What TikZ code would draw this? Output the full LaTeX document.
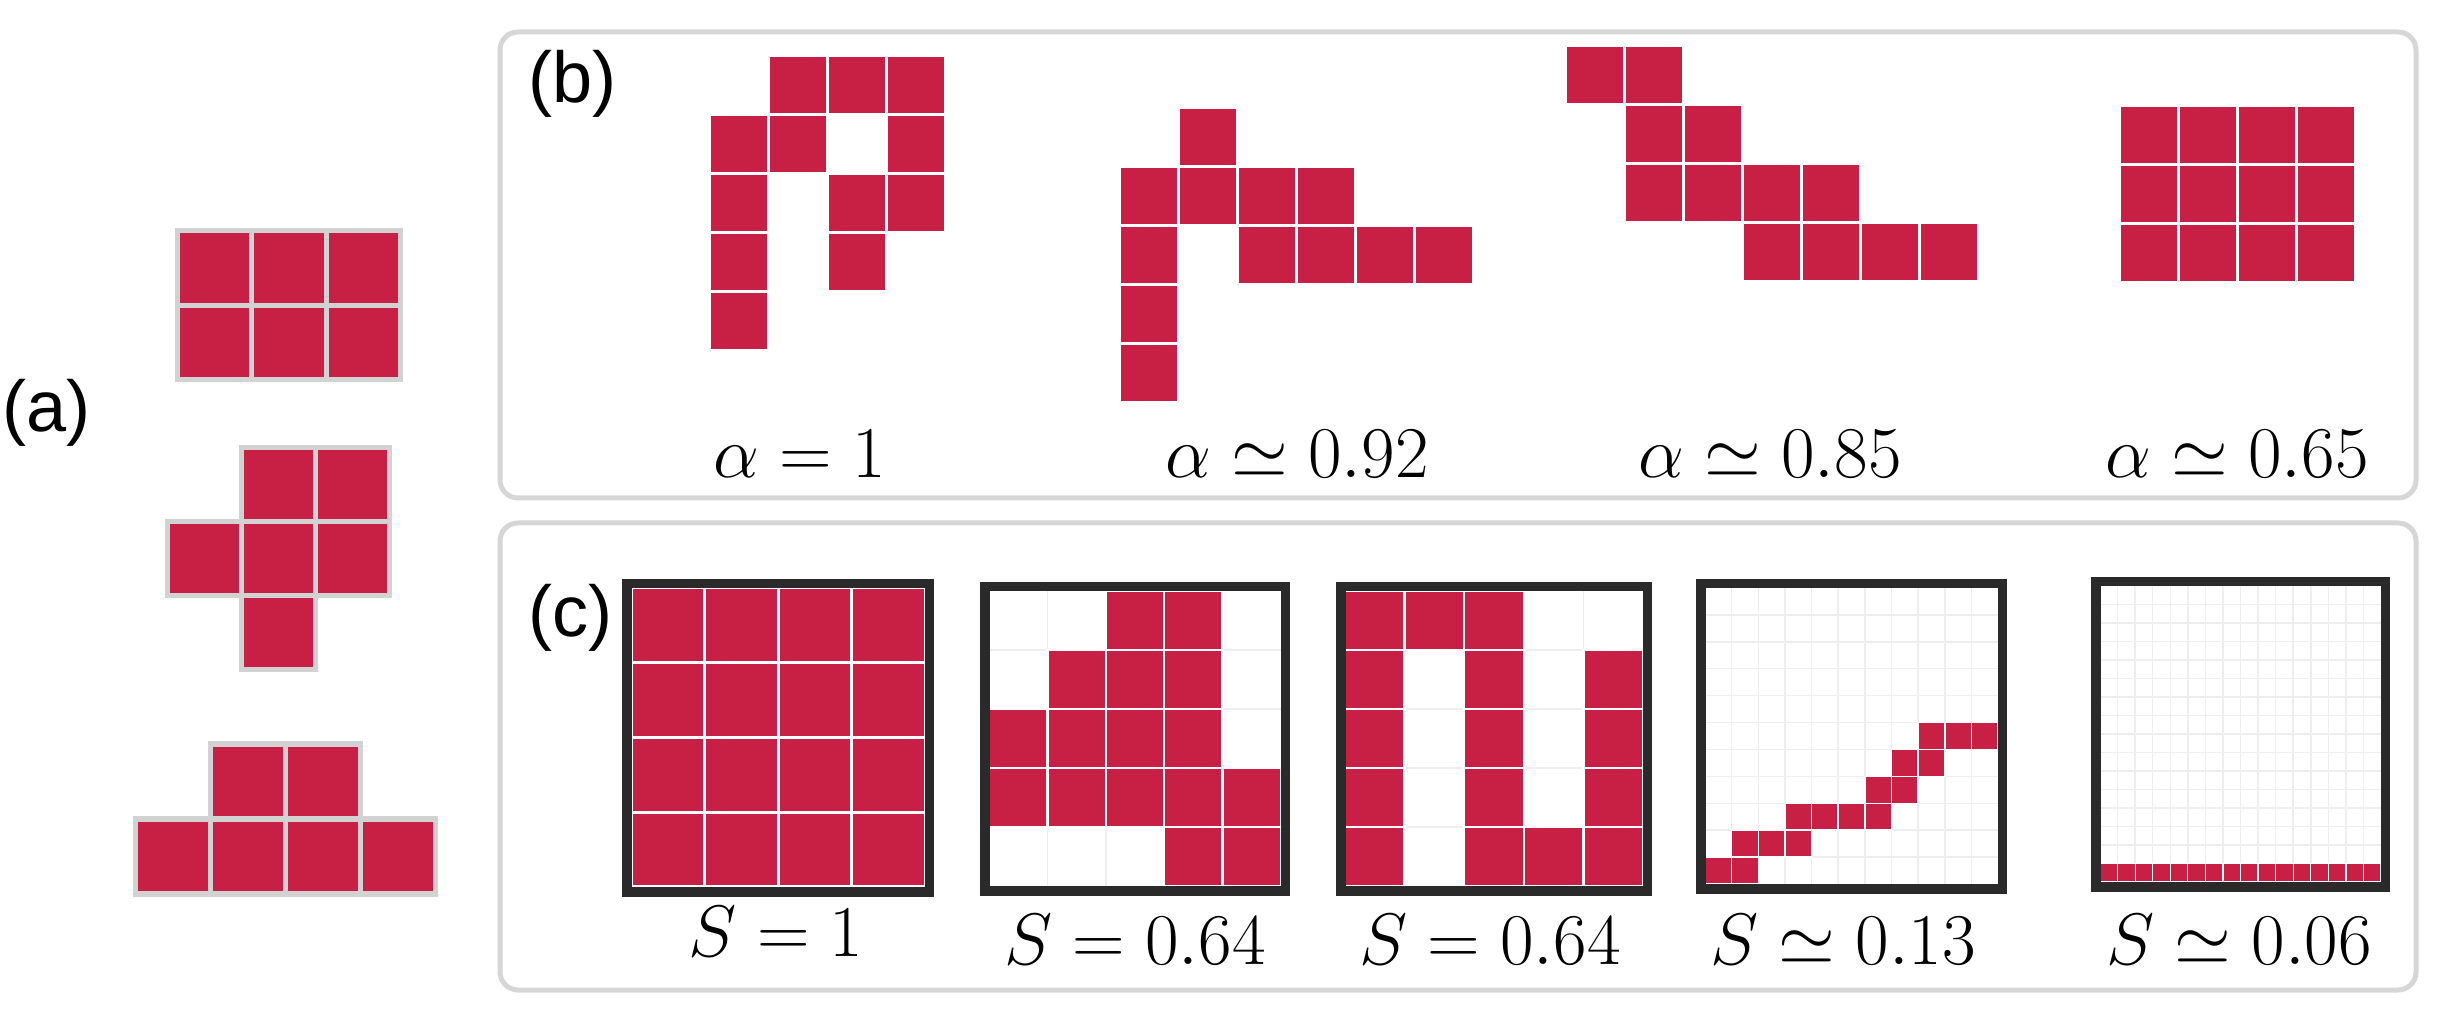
\documentclass[tikz,border=0pt]{standalone}
\usepackage{fontspec}
\newfontfamily\lsans{Liberation Sans}
\definecolor{crim}{RGB}{200,31,69}
\definecolor{panelgray}{RGB}{214,214,214}
\definecolor{framegray}{RGB}{42,42,42}
\definecolor{faint}{RGB}{238,238,238}
\definecolor{agap}{RGB}{210,210,210}
% cells of a polyomino: origin x, origin y, pitch, list col/row, style
\newcommand\cellset[5]{\foreach \c/\r in {#4}{\path[#5] ({#1+\c*#3},{#2+\r*#3}) rectangle ++(#3,#3);}}
% framed grid: x0,y0,x1,y1 (inner), n, cells, separator width
\newcommand\gbox[7]{%
  \fill[white] (#1,#2) rectangle (#3,#4);
  \pgfmathsetmacro\gw{(#3-#1)/#5}%
  \pgfmathsetmacro\gh{(#4-#2)/#5}%
  \pgfmathtruncatemacro\gm{#5-1}%
  \foreach \i in {1,...,\gm}{%
    \draw[faint,line width=0.015cm] ({#1+\i*\gw},#2) -- ({#1+\i*\gw},#4);
    \draw[faint,line width=0.015cm] (#1,{#2+\i*\gh}) -- (#3,{#2+\i*\gh});}
  \foreach \c/\r in {#6}{\path[fill=crim,draw=white,line width=#7] ({#1+\c*\gw},{#2+\r*\gh}) rectangle ++(\gw,\gh);}
  \draw[frame] ({#1-4},{#2-4.5}) rectangle ({#3+4.5},{#4+5});
}
\begin{document}
\begin{tikzpicture}[x=0.01cm,y=-0.01cm,
  acell/.style={fill=crim,draw=agap,line width=0.05cm},
  bcell/.style={fill=crim,draw=white,line width=0.03cm},
  panel/.style={draw=panelgray,line width=0.05cm,rounded corners=0.18cm},
  frame/.style={draw=framegray,line width=0.095cm},
  lbl/.style={font=\fontsize{21}{26}\selectfont,anchor=base,inner sep=0},
  tag/.style={font=\lsans\fontsize{20.5}{24}\selectfont,anchor=west,inner sep=0}]
\useasboundingbox[fill=white] (0,0) rectangle (2442,1022);

% panels
\draw[panel] (500,32) rectangle (2416,498);
\draw[panel] (500,523) rectangle (2416,990);

% tags
\node[tag] (ta) at (2,413) {(a)};
\node[tag] (tb) at (528,84) {(b)};
\node[tag] (tc) at (528,618) {(c)};

% (a) shapes
\cellset{177}{231}{74.5}{0/0,1/0,2/0,0/1,1/1,2/1}{acell}
\cellset{167}{448}{74}{1/0,2/0,0/1,1/1,2/1,1/2}{acell}
\cellset{135}{744}{75}{1/0,2/0,0/1,1/1,2/1,3/1}{acell}

% (b) shapes
\cellset{709}{56}{59}{1/0,2/0,3/0,0/1,1/1,3/1,0/2,2/2,3/2,0/3,2/3,0/4}{bcell}
\cellset{1119}{108}{59}{1/0,0/1,1/1,2/1,3/1,0/2,2/2,3/2,4/2,5/2,0/3,0/4}{bcell}
\cellset{1565}{46}{59}{0/0,1/0,1/1,2/1,1/2,2/2,3/2,4/2,3/3,4/3,5/3,6/3}{bcell}
\cellset{2119}{106}{59}{0/0,1/0,2/0,3/0,0/1,1/1,2/1,3/1,0/2,1/2,2/2,3/2}{bcell}

\node[lbl] (la1) at (800,478) {$\alpha = 1$};
\node[lbl] (la2) at (1297,478) {$\alpha \simeq 0.92$};
\node[lbl] (la3) at (1770,478) {$\alpha \simeq 0.85$};
\node[lbl] (la4) at (2237,478) {$\alpha \simeq 0.65$};

% (c) boxes
\gbox{631}{588}{925}{887}{4}{0/0,1/0,2/0,3/0,0/1,1/1,2/1,3/1,0/2,1/2,2/2,3/2,0/3,1/3,2/3,3/3}{0.03cm}
\gbox{989}{591}{1281}{886}{5}{2/0,3/0,1/1,2/1,3/1,0/2,1/2,2/2,3/2,0/3,1/3,2/3,3/3,4/3,3/4,4/4}{0.025cm}
\gbox{1345}{591}{1643}{886}{5}{0/0,1/0,2/0,0/1,2/1,4/1,0/2,2/2,4/2,0/3,2/3,4/3,0/4,2/4,3/4,4/4}{0.025cm}
\gbox{1705}{588}{1998}{884}{11}{0/10,1/10,1/9,2/9,3/9,3/8,4/8,5/8,6/8,6/7,7/7,7/6,8/6,8/5,9/5,10/5}{0.015cm}
\gbox{2100}{586}{2381}{882}{16}{0/15,1/15,2/15,3/15,4/15,5/15,6/15,7/15,8/15,9/15,10/15,11/15,12/15,13/15,14/15,15/15}{0.012cm}

\node[lbl] (ls1) at (776,956) {$S = 1$};
\node[lbl] (ls2) at (1135,965) {$S = 0.64$};
\node[lbl] (ls3) at (1490,965) {$S = 0.64$};
\node[lbl] (ls4) at (1843,965) {$S \simeq 0.13$};
\node[lbl] (ls5) at (2239,965) {$S \simeq 0.06$};
\end{tikzpicture}
\end{document}
